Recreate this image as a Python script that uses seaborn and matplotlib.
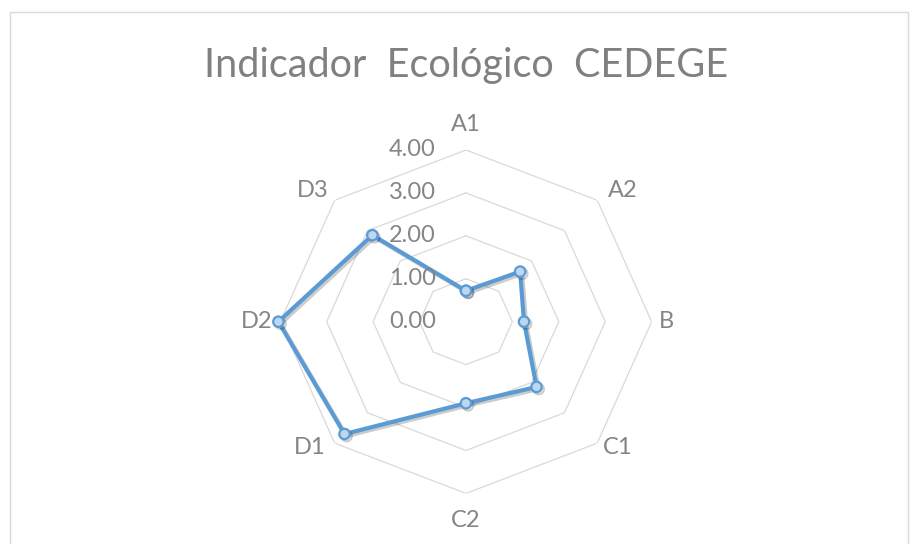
import numpy as np
import pandas as pd
import seaborn as sns
import matplotlib.pyplot as plt
import matplotlib.patheffects as pe
from matplotlib.patches import Rectangle

# datos del indicador
categorias = ['A1', 'A2', 'B', 'C1', 'C2', 'D1', 'D2', 'D3']
valores = [0.72, 1.65, 1.25, 2.15, 1.90, 3.70, 4.04, 2.85]
niveles = [0, 1, 2, 3, 4]
titulo = 'Indicador  Ecológico  CEDEGE'

# desplazamiento (px) de cada etiqueta respecto al vértice exterior
desp = [(0, 25), (25, 10), (15, 0), (20, -4), (0, -27), (-25, -4), (-24, 0), (-22, 10)]

sns.set_style('white')
plt.rcParams['font.family'] = ['Lato', 'DejaVu Sans']

gris = '#858585'
azul = '#5b9bd5'

fig = plt.figure(figsize=(9.15, 5.44), dpi=100)
ax = fig.add_axes([0.3063, 0.0930, 0.4059, 0.6313], projection='polar')
ax.set_aspect('auto')
ax.set_theta_zero_location('N')
ax.set_theta_direction(-1)
ax.patch.set_alpha(0)

ang = np.linspace(0, 2 * np.pi, len(categorias), endpoint=False)
ang_c = np.append(ang, 2 * np.pi)

# rejilla octogonal
for v in niveles[1:]:
    ax.plot(ang_c, [v] * len(ang_c), color='#d9d9d9', lw=0.9, zorder=1)

df = pd.DataFrame({'theta': ang_c, 'valor': valores + valores[:1]})
sns.lineplot(data=df, x='theta', y='valor', sort=False, estimator=None, ax=ax, color=azul,
             lw=3.0, marker='o', markersize=7.5, markerfacecolor='#bdd7ee',
             markeredgecolor=azul, markeredgewidth=1.6, clip_on=False, zorder=3,
             path_effects=[pe.SimpleLineShadow(offset=(1.5, -1.5), alpha=0.2), pe.Normal()])

ax.set_ylim(0, 4)
ax.grid(False)
ax.spines['polar'].set_visible(False)
ax.set_xticks([])
ax.set_yticks([])
ax.set_xlabel('')
ax.set_ylabel('')

for c, a, d in zip(categorias, ang, desp):
    ax.annotate(c, xy=(a, 4), xytext=d, textcoords='offset pixels',
                ha='center', va='center', fontsize=17, color=gris, annotation_clip=False)

for v in niveles:
    ax.annotate(f'{v:.2f}', xy=(0, v), xytext=(-30, 0), textcoords='offset pixels',
                ha='right', va='center', fontsize=17, color=gris)

fig.text(466 / 915, 1 - 65 / 544, titulo, ha='center', va='center',
         fontsize=28.5, color='#808080')

fig.add_artist(Rectangle((10 / 915, -0.05), 898 / 915, 1.05 - 12 / 544,
                         transform=fig.transFigure, fill=False,
                         edgecolor='#d9d9d9', lw=1))

fig.savefig('out.png', dpi=100)
